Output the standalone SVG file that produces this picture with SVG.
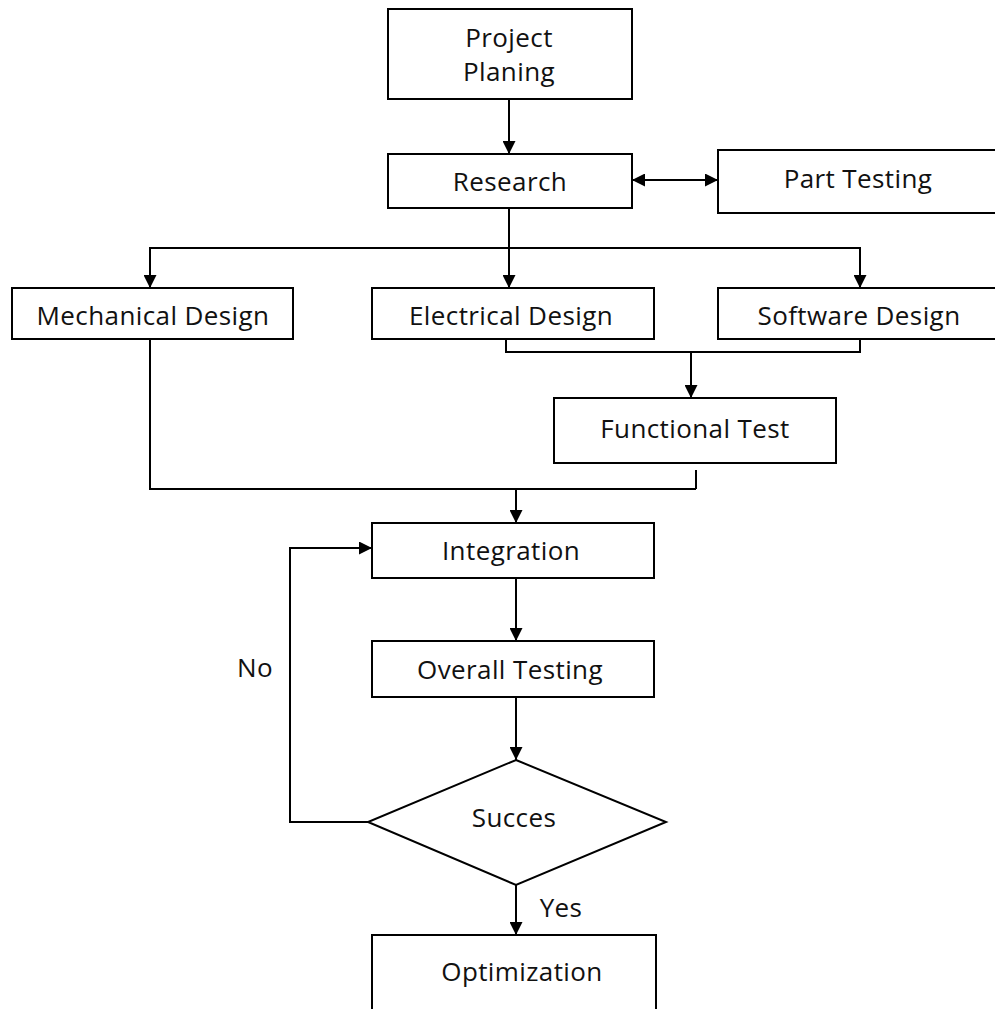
<svg xmlns="http://www.w3.org/2000/svg" width="995" height="1009" viewBox="0 0 995 1009">
<defs>
<style>
.box{fill:#fff;stroke:#000;stroke-width:2}
.ln{fill:none;stroke:#000;stroke-width:2}
text{font-family:"Open Sans","Noto Sans",sans-serif;font-size:26px;letter-spacing:0.4px;fill:#111;text-anchor:middle;dominant-baseline:central}
</style>
<marker id="ah" viewBox="0 0 10 10" refX="10" refY="5" markerWidth="15" markerHeight="13" markerUnits="userSpaceOnUse" orient="auto-start-reverse">
<path d="M0,0 L10,5 L0,10 z" fill="#000"/>
</marker>
</defs>
<rect width="995" height="1009" fill="#fff"/>
<g id="connectors">
<line class="ln" x1="509" y1="99" x2="509" y2="154" marker-end="url(#ah)"/>
<line class="ln" x1="632" y1="180" x2="718" y2="180" marker-start="url(#ah)" marker-end="url(#ah)"/>
<line class="ln" x1="509" y1="208" x2="509" y2="288" marker-end="url(#ah)"/>
<polyline class="ln" points="150,288 150,248 860,248 860,288"/>
<line class="ln" x1="150" y1="274" x2="150" y2="288" marker-end="url(#ah)"/>
<line class="ln" x1="860" y1="274" x2="860" y2="288" marker-end="url(#ah)"/>
<polyline class="ln" points="506,339 506,352 860,352 860,339"/>
<line class="ln" x1="691" y1="352" x2="691" y2="398" marker-end="url(#ah)"/>
<line class="ln" x1="696" y1="470" x2="696" y2="489"/>
<polyline class="ln" points="150,339 150,489 696,489"/>
<line class="ln" x1="516" y1="489" x2="516" y2="523" marker-end="url(#ah)"/>
<line class="ln" x1="516" y1="578" x2="516" y2="641" marker-end="url(#ah)"/>
<line class="ln" x1="516" y1="697" x2="516" y2="760" marker-end="url(#ah)"/>
<polyline class="ln" points="368,822 290,822 290,548 372,548" marker-end="url(#ah)"/>
<line class="ln" x1="516" y1="885" x2="516" y2="935" marker-end="url(#ah)"/>
<text x="255" y="667">No</text>
<text x="561" y="907">Yes</text>
</g>
<g id="project-planing">
<rect class="box" x="388" y="9" width="244" height="90"/>
<text x="509" y="37">Project</text>
<text x="509" y="71">Planing</text>
</g>
<g id="research">
<rect class="box" x="388" y="154" width="244" height="54"/>
<text x="510" y="181">Research</text>
</g>
<g id="part-testing">
<rect class="box" x="718" y="150" width="290" height="63"/>
<text x="858" y="178">Part Testing</text>
</g>
<g id="mechanical-design">
<rect class="box" x="12" y="288" width="281" height="51"/>
<text x="153" y="315">Mechanical Design</text>
</g>
<g id="electrical-design">
<rect class="box" x="372" y="288" width="282" height="51"/>
<text x="511" y="315">Electrical Design</text>
</g>
<g id="software-design">
<rect class="box" x="718" y="288" width="290" height="51"/>
<text x="859" y="315">Software Design</text>
</g>
<g id="functional-test">
<rect class="box" x="554" y="398" width="282" height="65"/>
<text x="695" y="428">Functional Test</text>
</g>
<g id="integration">
<rect class="box" x="372" y="523" width="282" height="55"/>
<text x="511" y="550">Integration</text>
</g>
<g id="overall-testing">
<rect class="box" x="372" y="641" width="282" height="56"/>
<text x="510" y="669">Overall Testing</text>
</g>
<g id="succes">
<polygon class="box" points="516,760 666,822 516,885 368,822"/>
<text x="514" y="817">Succes</text>
</g>
<g id="optimization">
<rect class="box" x="372" y="935" width="284" height="90"/>
<text x="522" y="971">Optimization</text>
</g>
</svg>
